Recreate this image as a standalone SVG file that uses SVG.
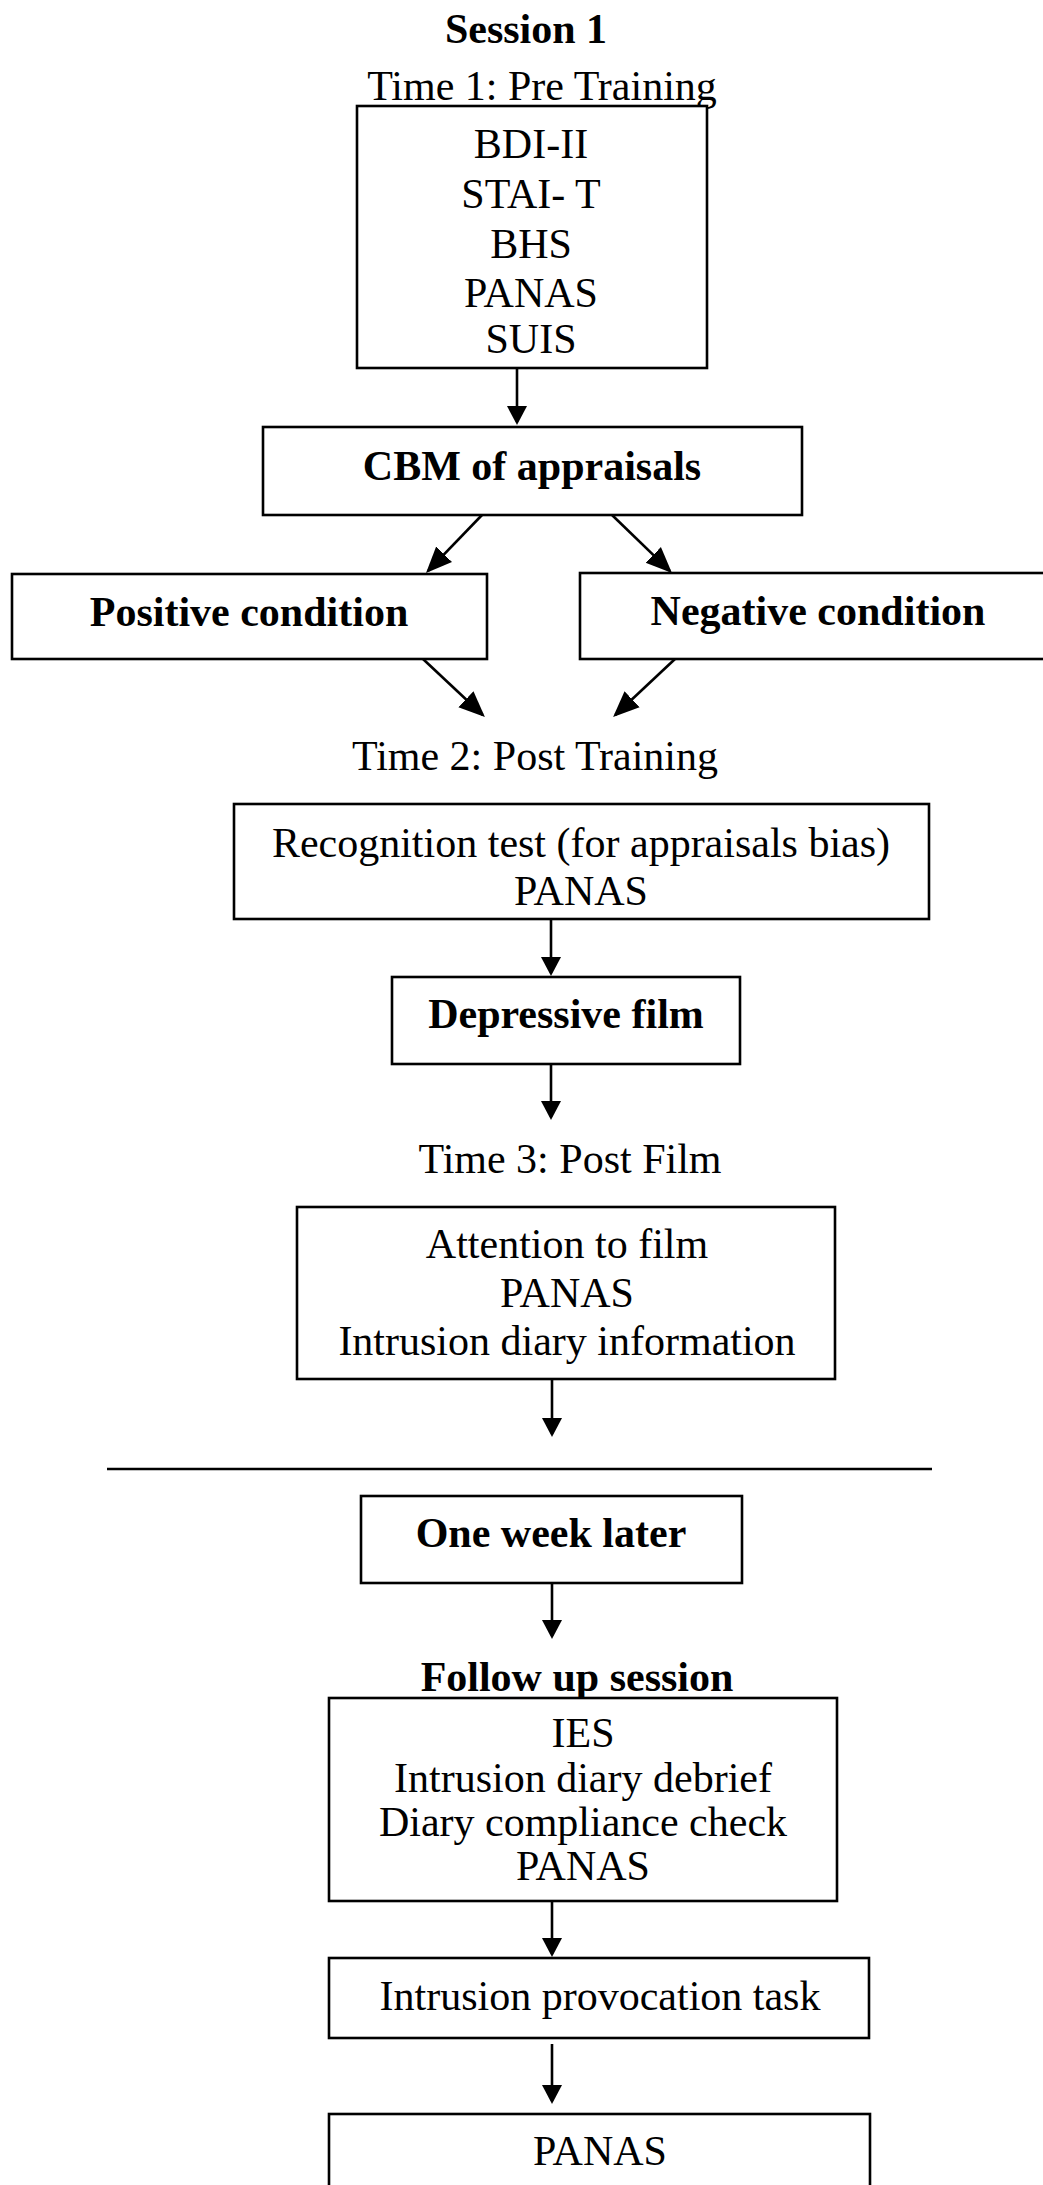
<svg xmlns="http://www.w3.org/2000/svg" width="1043" height="2185" viewBox="0 0 1043 2185">
  <style>
    .box { fill: #ffffff; stroke: #000000; stroke-width: 2.6; }
    .t { font-family: "Liberation Serif", "Times New Roman", serif; font-size: 42px; fill: #000000; text-anchor: middle; }
    .b { font-weight: bold; }
    .link { fill: none; stroke: #000000; stroke-width: 2.6; }
    .down { marker-end: url(#head); }
    .slant { marker-end: url(#headBig); }
  </style>
  <defs>
    <marker id="head" markerUnits="userSpaceOnUse" markerWidth="20" markerHeight="22" refX="16" refY="10" orient="auto" viewBox="0 0 20 20">
      <path d="M0,0 L19,10 L0,20 z" fill="#000000"/>
    </marker>
    <marker id="headBig" markerUnits="userSpaceOnUse" markerWidth="28" markerHeight="24" refX="23" refY="11" orient="auto" viewBox="0 0 28 22">
      <path d="M0,0 L26,11 L0,22 z" fill="#000000"/>
    </marker>
  </defs>

  <rect x="0" y="0" width="1043" height="2185" fill="#ffffff"/>

  <!-- section headings -->
  <g id="heading-session1">
    <text class="t b" x="526" y="43">Session 1</text>
  </g>
  <g id="heading-time1">
    <text class="t" x="542" y="100">Time 1: Pre Training</text>
  </g>

  <!-- connectors -->
  <g id="connectors">
    <path class="link down" d="M517,368 L517,422"/>
    <path class="link slant" d="M482,515 L428.1,570.8"/>
    <path class="link slant" d="M612,515 L669.8,570.9"/>
    <path class="link slant" d="M423,659 L482.7,715"/>
    <path class="link slant" d="M675,659 L615.3,715"/>
    <path class="link down" d="M551,919 L551,973"/>
    <path class="link down" d="M551,1064 L551,1117"/>
    <path class="link down" d="M552,1379 L552,1434"/>
    <path class="link down" d="M552,1583 L552,1636"/>
    <path class="link down" d="M552,1901 L552,1954"/>
    <path class="link down" d="M552,2044 L552,2101"/>
  </g>

  <!-- divider between sessions -->
  <g id="divider">
    <line x1="107" y1="1469" x2="932" y2="1469" stroke="#000000" stroke-width="2.6"/>
  </g>

  <g id="pre-measures">
    <rect class="box" x="357" y="106" width="350" height="262"/>
    <text class="t" x="531" y="158">BDI-II</text>
    <text class="t" x="531" y="208">STAI- T</text>
    <text class="t" x="531" y="258">BHS</text>
    <text class="t" x="531" y="307">PANAS</text>
    <text class="t" x="531" y="353">SUIS</text>
  </g>

  <g id="cbm">
    <rect class="box" x="263" y="427" width="539" height="88"/>
    <text class="t b" x="532" y="480">CBM of appraisals</text>
  </g>

  <g id="positive">
    <rect class="box" x="12" y="574" width="475" height="85"/>
    <text class="t b" x="249" y="626">Positive condition</text>
  </g>

  <g id="negative">
    <rect class="box" x="580" y="573" width="476" height="86"/>
    <text class="t b" x="818" y="625">Negative condition</text>
  </g>

  <g id="heading-time2">
    <text class="t" x="535" y="770">Time 2: Post Training</text>
  </g>

  <g id="recognition">
    <rect class="box" x="234" y="804" width="695" height="115"/>
    <text class="t" x="581" y="857">Recognition test (for appraisals bias)</text>
    <text class="t" x="581" y="905">PANAS</text>
  </g>

  <g id="film">
    <rect class="box" x="392" y="977" width="348" height="87"/>
    <text class="t b" x="566" y="1028">Depressive film</text>
  </g>

  <g id="heading-time3">
    <text class="t" x="570" y="1173">Time 3: Post Film</text>
  </g>

  <g id="post-film">
    <rect class="box" x="297" y="1207" width="538" height="172"/>
    <text class="t" x="567" y="1258">Attention to film</text>
    <text class="t" x="567" y="1307">PANAS</text>
    <text class="t" x="567" y="1355">Intrusion diary information</text>
  </g>

  <g id="one-week">
    <rect class="box" x="361" y="1496" width="381" height="87"/>
    <text class="t b" x="551" y="1547">One week later</text>
  </g>

  <g id="heading-follow-up">
    <text class="t b" x="577" y="1691">Follow up session</text>
  </g>

  <g id="follow-up">
    <rect class="box" x="329" y="1698" width="508" height="203"/>
    <text class="t" x="583" y="1747">IES</text>
    <text class="t" x="583" y="1792">Intrusion diary debrief</text>
    <text class="t" x="583" y="1836">Diary compliance check</text>
    <text class="t" x="583" y="1880">PANAS</text>
  </g>

  <g id="provocation">
    <rect class="box" x="329" y="1958" width="540" height="80"/>
    <text class="t" x="600" y="2010">Intrusion provocation task</text>
  </g>

  <g id="final-panas">
    <rect class="box" x="329" y="2114" width="541" height="90"/>
    <text class="t" x="600" y="2165">PANAS</text>
  </g>
</svg>
